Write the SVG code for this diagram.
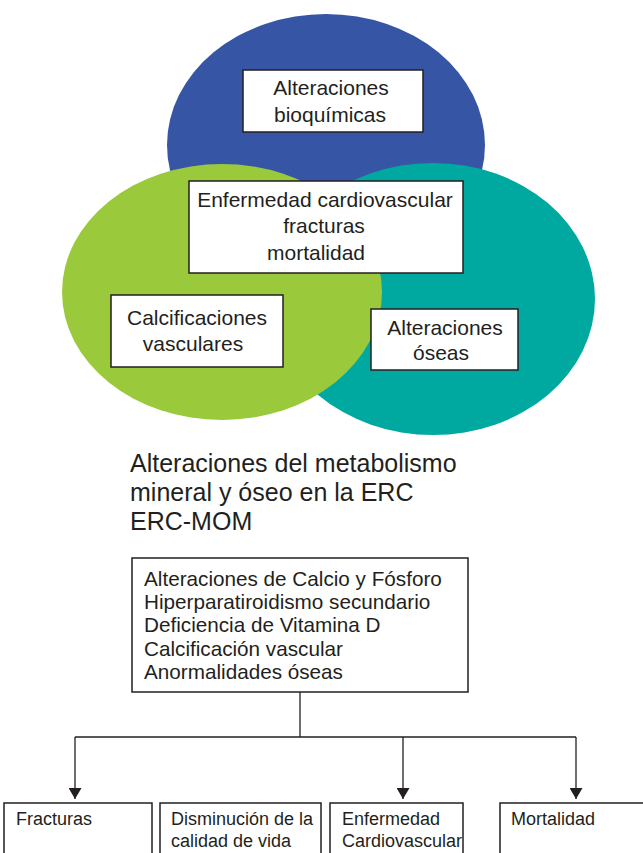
<svg xmlns="http://www.w3.org/2000/svg" width="643" height="853" viewBox="0 0 643 853">
<defs>
<style>
.box{fill:#ffffff;stroke:#231f20;stroke-width:1.5}
.t{font-family:"Liberation Sans",Arial,sans-serif;fill:#231f20}
.c21{font-size:21px;text-anchor:middle}
.con{fill:none;stroke:#231f20;stroke-width:1.3}
</style>
<marker id="arr" viewBox="0 0 11 13" refX="11" refY="6.5" markerWidth="11" markerHeight="13" markerUnits="userSpaceOnUse" orient="auto">
<path d="M0,0 L11,6.5 L0,13 z" fill="#231f20"/>
</marker>
</defs>
<rect width="643" height="853" fill="#ffffff"/>
<g id="venn">
<ellipse id="circle-bioquimicas" cx="326" cy="145" rx="159" ry="131" fill="#3655a5"/>
<ellipse id="circle-oseas" cx="433" cy="299" rx="162" ry="136" fill="#00a99f"/>
<ellipse id="circle-vasculares" cx="222" cy="292" rx="160" ry="128" fill="#9aca3c"/>
</g>
<g id="node-bioquimicas">
<rect class="box" x="243" y="70" width="180" height="62"/>
<text class="t c21" x="331" y="95">Alteraciones</text>
<text class="t c21" x="330" y="122">bioquímicas</text>
</g>
<g id="node-centro">
<rect class="box" x="189" y="181" width="274" height="92"/>
<text class="t c21" x="325" y="207">Enfermedad cardiovascular</text>
<text class="t c21" x="324" y="233">fracturas</text>
<text class="t c21" x="316" y="260">mortalidad</text>
</g>
<g id="node-calcificaciones">
<rect class="box" x="111" y="295" width="172" height="72"/>
<text class="t c21" x="197" y="325">Calcificaciones</text>
<text class="t c21" x="193" y="351">vasculares</text>
</g>
<g id="node-oseas">
<rect class="box" x="371" y="309" width="147" height="61"/>
<text class="t c21" x="445" y="335">Alteraciones</text>
<text class="t c21" x="441" y="360">óseas</text>
</g>
<g id="title">
<text class="t" x="130" y="472" font-size="25">Alteraciones del metabolismo</text>
<text class="t" x="130" y="501" font-size="25">mineral y óseo en la ERC</text>
<text class="t" x="130" y="530" font-size="25">ERC-MOM</text>
</g>
<g id="node-erc-mom">
<rect class="box" x="132" y="558" width="336" height="134"/>
<text class="t" x="144" y="586" font-size="20.7">Alteraciones de Calcio y Fósforo</text>
<text class="t" x="144" y="609" font-size="20.7">Hiperparatiroidismo secundario</text>
<text class="t" x="144" y="632" font-size="20.7">Deficiencia de Vitamina D</text>
<text class="t" x="144" y="656" font-size="20.7">Calcificación vascular</text>
<text class="t" x="144" y="679" font-size="20.7">Anormalidades óseas</text>
</g>
<g id="connectors">
<path class="con" d="M300,692 V737"/>
<path class="con" d="M75,737 H576"/>
<path class="con" d="M75,737 V799" marker-end="url(#arr)"/>
<path class="con" d="M403,737 V799" marker-end="url(#arr)"/>
<path class="con" d="M576,737 V799" marker-end="url(#arr)"/>
</g>
<g id="node-fracturas">
<rect class="box" x="4" y="803" width="148" height="60"/>
<text class="t" x="16" y="825" font-size="18">Fracturas</text>
</g>
<g id="node-calidad">
<rect class="box" x="160" y="803" width="161" height="60"/>
<text class="t" x="171" y="825" font-size="18">Disminución de la</text>
<text class="t" x="171" y="847" font-size="18">calidad de vida</text>
</g>
<g id="node-cardiovascular">
<rect class="box" x="330" y="803" width="133" height="60"/>
<text class="t" x="342" y="825" font-size="18">Enfermedad</text>
<text class="t" x="342" y="847" font-size="18">Cardiovascular</text>
</g>
<g id="node-mortalidad">
<rect class="box" x="500" y="803" width="150" height="60"/>
<text class="t" x="511" y="825" font-size="18">Mortalidad</text>
</g>
</svg>
